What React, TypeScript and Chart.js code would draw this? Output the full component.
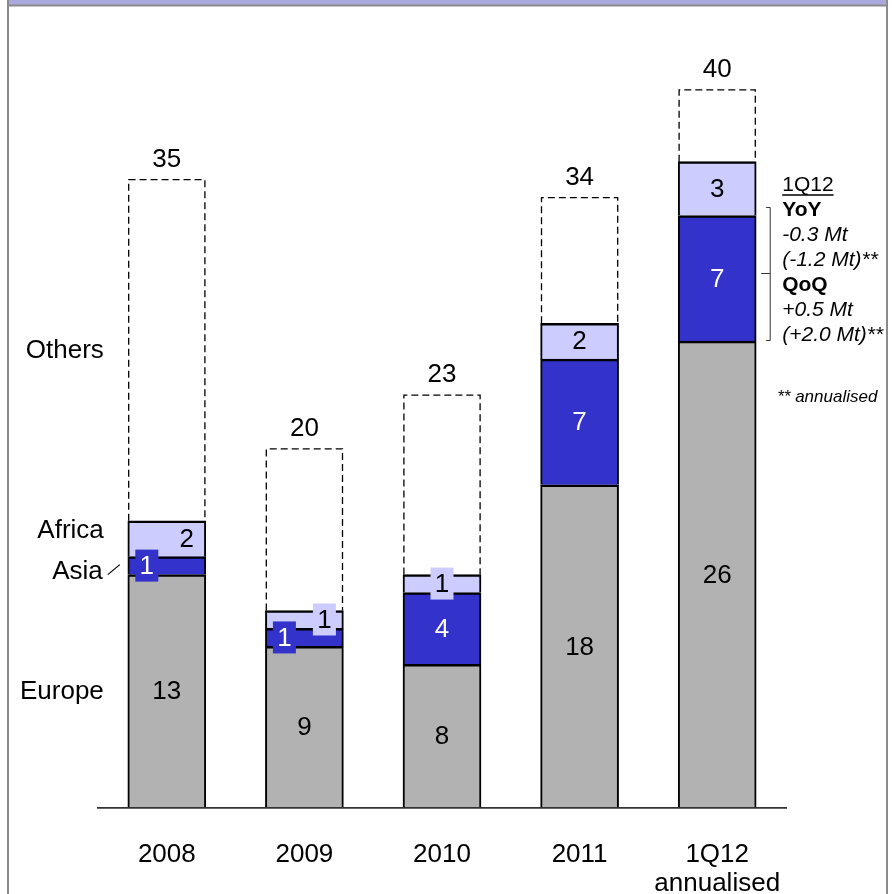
import React, { useEffect, useRef } from 'react';
import { Chart, registerables } from 'chart.js';

Chart.register(...registerables);

// Production by region, Mt
const categories: (string | string[])[] = ['2008', '2009', '2010', '2011', ['1Q12', 'annualised']];
const europe = [13, 9, 8, 18, 26];
const asia = [1, 1, 4, 7, 7];
const africa = [2, 1, 1, 2, 3];
const others = [19, 9, 10, 7, 4];
const seriesNames = ['Europe', 'Asia', 'Africa', 'Others'];

const noteTitle = '1Q12';
const noteLines: { text: string; style: 'bold' | 'italic' }[] = [
  { text: 'YoY', style: 'bold' },
  { text: '-0.3 Mt', style: 'italic' },
  { text: '(-1.2 Mt)**', style: 'italic' },
  { text: 'QoQ', style: 'bold' },
  { text: '+0.5 Mt', style: 'italic' },
  { text: '(+2.0 Mt)**', style: 'italic' },
];
const footNote = '** annualised';

const FONT = '"Liberation Sans", Arial, Helvetica, sans-serif';
const EU_COLOR = '#b2b2b2';
const ASIA_COLOR = '#3333cc';
const AF_COLOR = '#ccccff';

// horizontal nudges for the value labels of thin segments
const asiaLabelDx = [-20, -20, 0, 0, 0];
const africaLabelDx = [20, 20, 0, 0, 0];

type Pt = { x: number; y: number; base: number; width: number };

const framePlugin = {
  id: 'frame',
  beforeDraw(chart: any) {
    const { ctx, width, height } = chart;
    ctx.save();
    ctx.fillStyle = '#ffffff';
    ctx.fillRect(0, 0, width, height);
    ctx.fillStyle = '#a9a9de';
    ctx.fillRect(8, 0, 879, 5);
    ctx.strokeStyle = '#8a8a8a';
    ctx.lineWidth = 2;
    ctx.beginPath();
    ctx.moveTo(8, 0);
    ctx.lineTo(8, height);
    ctx.moveTo(887, 0);
    ctx.lineTo(887, height);
    ctx.moveTo(8, 5.5);
    ctx.lineTo(887, 5.5);
    ctx.stroke();
    ctx.restore();
  },
};

const overlayPlugin = {
  id: 'overlay',
  afterDatasetsDraw(chart: any) {
    const ctx: CanvasRenderingContext2D = chart.ctx;
    const pts = (i: number): Pt[] =>
      chart.getDatasetMeta(i).data.map((el: any) => el.getProps(['x', 'y', 'base', 'width'], true));
    const eu = pts(0);
    const as = pts(1);
    const af = pts(2);
    const ot = pts(3);

    ctx.save();

    // dashed outline for the "Others" part of each bar
    ctx.strokeStyle = '#000';
    ctx.lineWidth = 1.3;
    ctx.setLineDash([7, 4]);
    ot.forEach((b) => {
      const l = b.x - b.width / 2 + 0.9;
      const r = b.x + b.width / 2 - 0.9;
      ctx.beginPath();
      ctx.moveTo(l, b.base);
      ctx.lineTo(l, b.y);
      ctx.lineTo(r, b.y);
      ctx.lineTo(r, b.base);
      ctx.stroke();
    });
    ctx.setLineDash([]);

    // segment value labels
    ctx.font = `26px ${FONT}`;
    ctx.textAlign = 'center';
    ctx.textBaseline = 'middle';
    const segs = [
      { p: eu, vals: europe, color: '#000', fill: EU_COLOR, dx: [0, 0, 0, 0, 0] },
      { p: as, vals: asia, color: '#fff', fill: ASIA_COLOR, dx: asiaLabelDx },
      { p: af, vals: africa, color: '#000', fill: AF_COLOR, dx: africaLabelDx },
    ];
    segs.forEach((s) => {
      s.p.forEach((b, i) => {
        const x = b.x + s.dx[i];
        const y = (b.y + b.base) / 2;
        if (b.base - b.y < 25) {
          ctx.fillStyle = s.fill;
          ctx.fillRect(x - 11.5, y - 16, 23, 32);
        }
        ctx.fillStyle = s.color;
        ctx.fillText(String(s.vals[i]), x, y + 1);
      });
    });

    // totals above the bars
    ctx.fillStyle = '#000';
    ot.forEach((b, i) => {
      const total = europe[i] + asia[i] + africa[i] + others[i];
      ctx.fillText(String(total), b.x, b.y - 20);
    });

    // series names beside the first bar
    const first = { eu: eu[0], as: as[0], af: af[0], ot: ot[0] };
    const lx = first.eu.x - first.eu.width / 2 - 24;
    ctx.textAlign = 'right';
    ctx.fillText(seriesNames[3], lx, (first.ot.y + first.ot.base) / 2 + 1);
    ctx.fillText(seriesNames[2], lx, (first.af.y + first.af.base) / 2 - 8);
    ctx.fillText(seriesNames[1], lx - 1, (first.as.y + first.as.base) / 2 + 6);
    ctx.fillText(seriesNames[0], lx, (first.eu.y + first.eu.base) / 2 + 1);
    // leader line to the Asia segment
    const ay = (first.as.y + first.as.base) / 2;
    ctx.lineWidth = 1.2;
    ctx.beginPath();
    ctx.moveTo(lx + 4, ay + 9);
    ctx.lineTo(lx + 16, ay - 1);
    ctx.stroke();

    // 1Q12 change notes
    const last = as[as.length - 1];
    const nx = last.x + last.width / 2 + 26;
    ctx.textAlign = 'left';
    ctx.font = `21px ${FONT}`;
    ctx.fillText(noteTitle, nx, 185);
    const tw = ctx.measureText(noteTitle).width;
    ctx.lineWidth = 1.5;
    ctx.beginPath();
    ctx.moveTo(nx, 195);
    ctx.lineTo(nx + tw, 195);
    ctx.stroke();
    noteLines.forEach((ln, k) => {
      ctx.font = `${ln.style === 'bold' ? 'bold' : 'italic'} 21px ${FONT}`;
      ctx.fillText(ln.text, nx, 210 + k * 25);
    });
    ctx.font = `italic 17px ${FONT}`;
    ctx.fillText(footNote, nx - 5, 397);

    // bracket spanning the notes
    const bx = last.x + last.width / 2 + 14;
    ctx.lineWidth = 1;
    ctx.strokeStyle = '#333';
    ctx.beginPath();
    ctx.moveTo(bx - 4, 207.5);
    ctx.lineTo(bx, 207.5);
    ctx.lineTo(bx, 340.5);
    ctx.lineTo(bx - 4, 340.5);
    ctx.moveTo(bx, 273.5);
    ctx.lineTo(bx - 9, 273.5);
    ctx.stroke();

    ctx.restore();
  },
};

export default function App() {
  const canvasRef = useRef<HTMLCanvasElement | null>(null);

  useEffect(() => {
    const canvas = canvasRef.current;
    if (!canvas) return;
    const barBorder = { top: 2.5, left: 2, right: 2, bottom: 0 };
    const chart = new Chart(canvas, {
      type: 'bar',
      data: {
        labels: categories as any,
        datasets: [
          { label: seriesNames[0], data: europe, backgroundColor: EU_COLOR, borderColor: '#000', borderWidth: barBorder, borderSkipped: false },
          { label: seriesNames[1], data: asia, backgroundColor: ASIA_COLOR, borderColor: '#000', borderWidth: barBorder, borderSkipped: false },
          { label: seriesNames[2], data: africa, backgroundColor: AF_COLOR, borderColor: '#000', borderWidth: barBorder, borderSkipped: false },
          { label: seriesNames[3], data: others, backgroundColor: 'rgba(0,0,0,0)', borderWidth: 0 },
        ],
      },
      options: {
        animation: false,
        responsive: true,
        maintainAspectRatio: false,
        events: [],
        layout: { padding: { left: 98, right: 106, top: 18, bottom: 0 } },
        datasets: { bar: { barThickness: 78 } },
        plugins: {
          legend: { display: false },
          tooltip: { enabled: false },
          title: { display: false },
        },
        scales: {
          x: {
            stacked: true,
            grid: { display: false, drawTicks: false },
            border: { display: true, color: '#333333', width: 1.8, z: 1 },
            ticks: {
              color: '#000',
              padding: 33,
              font: { family: FONT, size: 26, lineHeight: 1.1 },
              maxRotation: 0,
              autoSkip: false,
            },
            afterFit: (axis: any) => {
              axis.height = 86;
            },
          },
          y: {
            stacked: true,
            display: false,
            min: 0,
            max: 44,
          },
        },
      },
      plugins: [framePlugin, overlayPlugin],
    });
    return () => chart.destroy();
  }, []);

  return (
    <div style={{ position: 'fixed', left: 0, top: 0, width: 892, height: 894, background: '#fff' }}>
      <canvas ref={canvasRef} />
    </div>
  );
}
